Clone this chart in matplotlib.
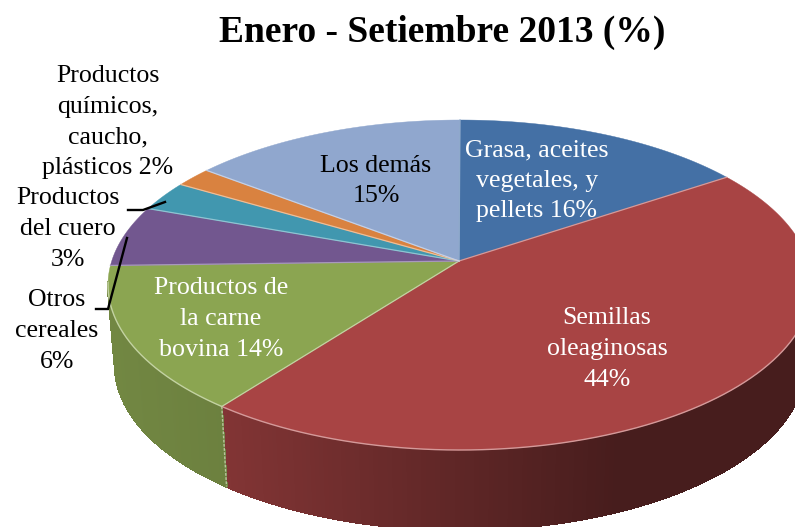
import numpy as np
import matplotlib
matplotlib.use("Agg")
import matplotlib.pyplot as plt

title = "Enero - Setiembre 2013 (%)"
categories = ["Grasa, aceites\nvegetales, y\npellets", "Semillas\noleaginosas\n", "Productos de\nla carne\nbovina",
              "Otros\ncereales\n", "Productos\ndel cuero\n", "Productos\nquímicos,\ncaucho,\nplásticos", "Los demás\n"]
values = [16, 44, 14, 6, 3, 2, 15]
colors = ["#4470A5", "#A84444", "#8BA551", "#72578F", "#4197AF", "#D98240", "#90A7CE"]
edge_colors = ["#8FAACB", "#D49A9A", "#C3D2A2", "#A898BD", "#8FC4D2", "#EDBE98", "#C4D0E6"]
text_colors = ["white", "white", "white", "black", "black", "black", "black"]
label_pos = [(537, 181), (607, 349), (221, 319), (57, 331), (68, 229), (108, 122), (376, 181)]

W, H = 795, 527
fig = plt.figure(figsize=(W / 100, H / 100), dpi=100)
ax = fig.add_axes([0, 0, 1, 1])
ax.set_xlim(0, W)
ax.set_ylim(H, 0)
ax.axis("off")
plt.rcParams["font.family"] = ["Liberation Serif"]

# Perspective geometry of the pie
CX, CY, RX, RY = 460, 285, 352, 165
BX, BY, BRX, BRY = 460, 365, 345, 165
APEX = (459, 261)
V0 = 0.18


def rim_uv(frac):
    th = 2 * np.pi * np.asarray(frac)
    x, y = np.sin(th), np.cos(th)
    den = 1 + V0 * y
    return x * np.sqrt(1 - V0 ** 2) / den, (y + V0) / den


def side_shade(x):
    return np.interp(x, [110, 218, 450, 620], [0.82, 0.78, 0.57, 0.42])


cum = np.concatenate([[0], np.cumsum(values)]) / np.sum(values)

# Side wall, drawn as thin vertical strips for a shaded look
for i, col in enumerate(colors):
    f = np.linspace(cum[i], cum[i + 1], 240)
    u, v = rim_uv(f)
    base = np.array(matplotlib.colors.to_rgb(col))
    m = v <= 0.02
    if m.any():
        ax.plot(BX + BRX * u[m], BY - BRY * v[m], color="#B5B5B5", lw=1.2, zorder=1.9)
    for j in range(len(f) - 1):
        if v[j] > 0.02 or v[j + 1] > 0.02:
            continue
        xs = [CX + RX * u[j], CX + RX * u[j + 1], BX + BRX * u[j + 1], BX + BRX * u[j]]
        ys = [CY - RY * v[j], CY - RY * v[j + 1], BY - BRY * v[j + 1], BY - BRY * v[j]]
        c = base * side_shade(np.mean(xs))
        ax.fill(xs, ys, color=c, lw=1.0, antialiased=False, zorder=2)

# Seam between green and red side walls
u, v = rim_uv(cum[2])
ax.plot([CX + RX * u, BX + BRX * u], [CY - RY * v, BY - BRY * v], color="#B8C49C", lw=1.0, ls=(0, (2, 1)), zorder=3)

# Top surface
for i, col in enumerate(colors):
    f = np.linspace(cum[i], cum[i + 1], 200)
    u, v = rim_uv(f)
    xs = np.concatenate([[APEX[0]], CX + RX * u])
    ys = np.concatenate([[APEX[1]], CY - RY * v])
    ax.fill(xs, ys, color=col, lw=0.3, zorder=4)
for i, col in enumerate(colors):
    f = np.linspace(cum[i], cum[i + 1], 200)
    u, v = rim_uv(f)
    ec = edge_colors[i]
    ax.plot([APEX[0], CX + RX * u[0]], [APEX[1], CY - RY * v[0]], color=ec, lw=0.9, zorder=5)
    m = v <= 0.02
    if m.any():
        ax.plot(CX + RX * u[m], CY - RY * v[m], color=ec, lw=1.0, zorder=5)

# Leader lines
ax.plot([128, 143, 165], [210, 210, 202], color="black", lw=1.7, zorder=6, solid_joinstyle="miter")
ax.plot([96, 108, 127], [309, 309, 238], color="black", lw=1.7, zorder=6, solid_joinstyle="miter")

# Labels
for cat, val, tc, (x, y) in zip(categories, values, text_colors, label_pos):
    if cat.endswith("\n"):
        s = cat + f"{val}%"
    else:
        s = cat + f" {val}%"
    ax.text(x, y, s, ha="center", va="center", color=tc, fontsize=18.6, linespacing=1.5,
            family="Liberation Serif", zorder=7)

ax.text(442, 32, title, ha="center", va="center", color="black", fontsize=27, fontweight="bold",
        family="Liberation Serif", zorder=7)

fig.savefig("out.png", dpi=100)
